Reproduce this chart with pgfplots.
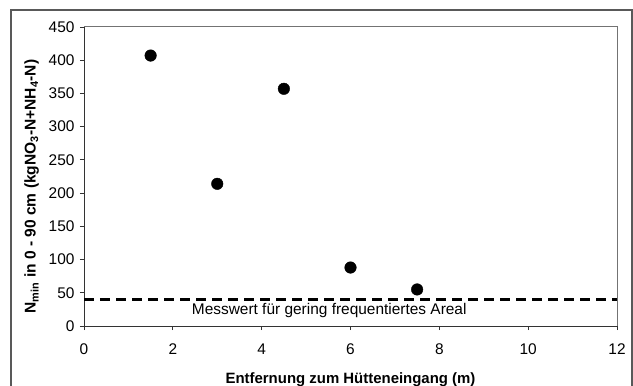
\documentclass[border=0pt]{standalone}
\usepackage{pgfplots}
\pgfplotsset{compat=1.18}
\usepackage{fontspec}
\setmainfont{Liberation Sans}
\begin{document}
\begin{tikzpicture}[x=1bp,y=1bp]
\useasboundingbox (-84,-59) rectangle (549,326);
\draw[line width=1.2bp, black!65] (-73,-70) -- (-73,316) -- (548,316) -- (548,-70);
\begin{axis}[
  at={(0,0)}, anchor=origin,
  scale only axis, width=533bp, height=299bp,
  xmin=0, xmax=12, ymin=0, ymax=450,
  xtick={0,2,...,12}, ytick={0,50,...,450},
  axis lines*=left,
  axis line style={-, black!80, line width=0.8bp},
  tick align=outside, major tick length=4bp,
  tick style={black!80, line width=0.8bp},
  ticklabel style={font=\fontsize{15.5}{18}\selectfont},
  /pgf/number format/assume math mode=true,
  xticklabel style={yshift=-10bp},
  yticklabel style={xshift=-2bp},
  xlabel={\textbf{Entfernung zum Hütteneingang (m)}},
  xlabel style={font=\fontsize{15}{18}\selectfont, yshift=-11bp},
  ylabel={\textbf{N\textsubscript{min} in 0 - 90 cm (kgNO\textsubscript{3}-N+NH\textsubscript{4}-N)}},
  ylabel style={font=\fontsize{15.6}{18}\selectfont, yshift=3bp, xshift=-10bp},
  clip=false,
]
\draw[black!55, line width=1bp] (rel axis cs:0,1) -- (rel axis cs:1,1) -- (rel axis cs:1,0);
\addplot[only marks, mark=*, mark size=5.8bp, black] coordinates {
(1.5,407) (3,214) (4.5,357) (6,88) (7.5,55)
};
\addplot[black, line width=2.2bp, dash pattern=on 10bp off 6bp] coordinates {(0,40) (12,40)};
\node[anchor=west, font=\fontsize{15.5}{18}\selectfont] at (axis cs:2.35,24) {Messwert für gering frequentiertes Areal};
\end{axis}
\end{tikzpicture}
\end{document}
